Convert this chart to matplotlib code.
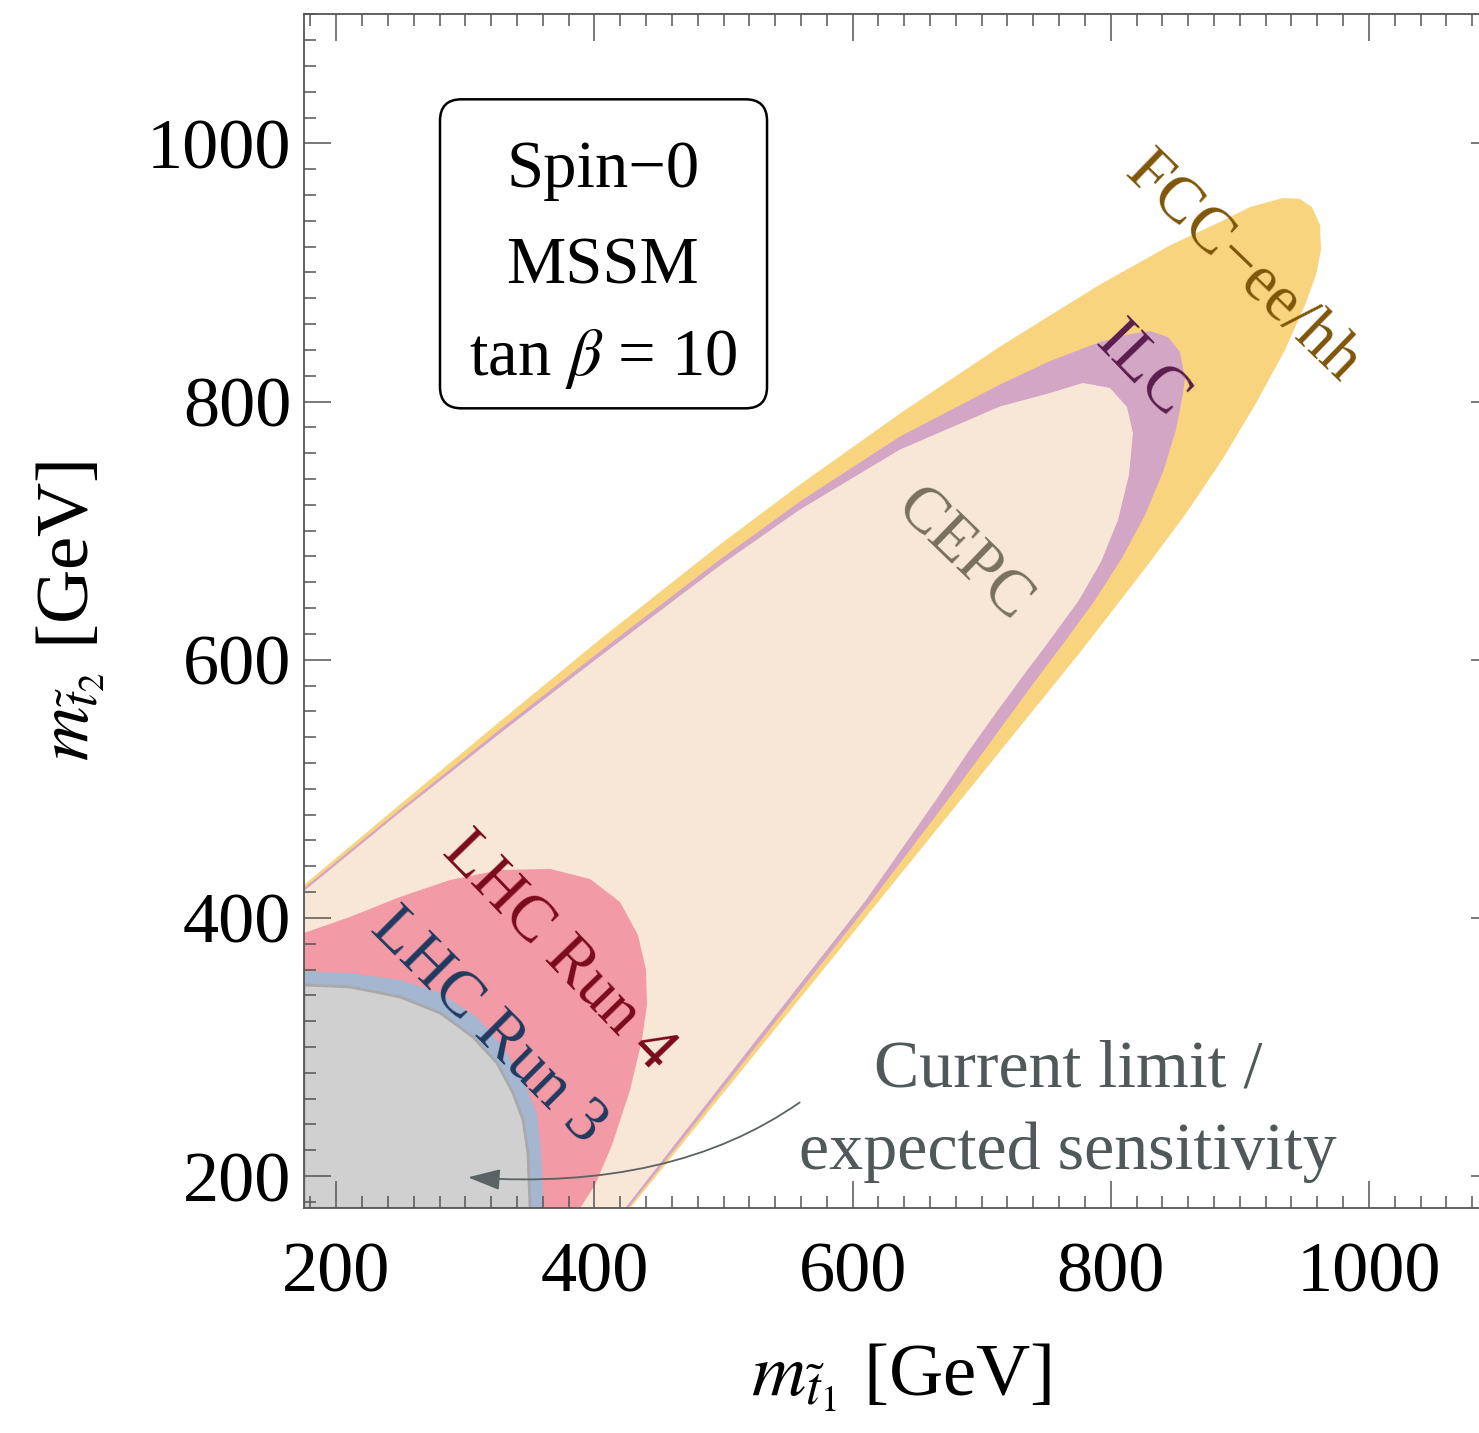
import matplotlib
matplotlib.use("Agg")
import matplotlib.pyplot as plt
from matplotlib.patches import FancyBboxPatch
from matplotlib.ticker import MultipleLocator

plt.rcParams["font.family"] = ["Liberation Serif", "DejaVu Serif"]
plt.rcParams["mathtext.fontset"] = "stix"

# region boundaries (m_t1, m_t2) in GeV
fcc_x = [175, 249.4, 326.8, 404.3, 498, 559.3, 636.7, 714.2, 791.7, 845.9, 884.6, 907.9,
         933.4, 946.6, 955.9, 962.1, 962.9, 959, 950.5, 935, 911.7, 886.2, 859.1, 830.4,
         801.7, 774.6, 427.6, 175]
fcc_y = [425.5, 487.9, 552.2, 615.7, 689.8, 735.7, 790.7, 842.6, 890.7, 921, 939.1, 950.7,
         957.7, 957, 950.7, 936.8, 917.4, 898, 874.8, 839.9, 797.3, 754.7, 714.4, 675.7,
         638.5, 603.6, 175, 175]

ilc_x = [175, 249.4, 326.8, 404.3, 498, 559.3, 636.7, 714.2, 753, 791.7, 814.9, 830.4,
         844.3, 853.6, 857.5, 856, 850.5, 840.5, 826.5, 808.7, 787.8, 765.3, 742.1, 716.5,
         691, 670.8, 615, 535.2, 426, 175]
ilc_y = [423.1, 484, 546, 606.4, 678.2, 722.6, 772.9, 813.2, 831.4, 846.1, 852.3, 854.6,
         850, 838.4, 818.2, 806.6, 778, 745.4, 712.1, 678.8, 646.2, 615.3, 584.3, 549.4,
         514.6, 487.4, 413.8, 313.1, 175, 175]

cepc_x = [175, 249.4, 326.8, 404.3, 498, 559.3, 636.7, 714.2, 753, 778.5, 799.4, 812.6,
          817.2, 814.1, 805.6, 792.4, 775.4, 755.2, 734.3, 712.6, 689.4, 664.6, 610.4,
          531.4, 423.7, 175]
cepc_y = [420.8, 481.7, 542.9, 602.6, 673.5, 716.4, 762.8, 796.2, 806.6, 814.4, 810.5, 795.8,
          775.6, 743.1, 708.2, 675.7, 646.2, 618.4, 590.5, 561, 528.5, 491.3, 413.8,
          313.1, 175, 175]

run4_x = [175, 210.6, 249.4, 288.1, 326.8, 365.6, 396.6, 419.8, 433.7, 440, 440.7,
          436.8, 427.6, 413.6, 400.4, 388.8, 175]
run4_y = [388.3, 400.7, 416.2, 429.3, 437.1, 437.9, 430.1, 412.3, 386.7, 359.6, 332.5,
          305.4, 266.6, 224, 193, 175, 175]

run3_x = [175, 210.6, 249.4, 280.4, 309, 329.2, 344.7, 355.5, 357.8, 359.4, 360.2, 175]
run3_y = [358.1, 357.3, 351.9, 341.8, 323.2, 300, 274.4, 248.8, 227.9, 204.7, 175, 175]

now_x = [175, 210.6, 249.4, 280.4, 305.9, 324.5, 336.9, 344.7, 348.5, 350.1, 175]
now_y = [348, 346.5, 338.7, 326.3, 307.7, 287.6, 264.3, 243.4, 217.8, 175, 175]

# label text, position, rotation, colour
labels = [
    ("FCC\u2212ee/hh", 902, 904, -44, "#7f5608"),
    ("ILC", 824, 824, -46, "#5a1d4c"),
    ("CEPC", 686, 681, -44, "#7a705e"),
    ("LHC Run 4", 372, 374, -46, "#7a0a1c"),
    ("LHC Run 3", 318, 316, -45, "#1f3a60"),
]

fig = plt.figure(figsize=(14.79, 14.33), dpi=100)
ax = fig.add_axes([304 / 1479, (1433 - 1208.3) / 1433, 1194 / 1479, 1194 / 1433])

ax.fill(fcc_x, fcc_y, color="#f8d47f", lw=0)
ax.fill(ilc_x, ilc_y, color="#d3a6c6", lw=0)
ax.fill(cepc_x, cepc_y, color="#f8e7d7", lw=0)
ax.fill(run4_x, run4_y, color="#f29aa5", lw=0)
ax.fill(run3_x, run3_y, color="#a4b6d0", lw=0)
ax.fill(now_x, now_y, facecolor="#d0d0d0", edgecolor="#a9a9a9", lw=2)

for text, x, y, rot, col in labels:
    ax.text(x, y, text, rotation=rot, color=col, fontsize=47,
            ha="center", va="center", rotation_mode="anchor")

# current limit annotation
ax.text(767, 250, "Current limit /\nexpected sensitivity", fontsize=49, color="#505859",
        ha="center", va="center", linespacing=1.45)
ax.annotate("", xy=(302, 199), xytext=(559, 257),
            arrowprops=dict(arrowstyle="-|>,head_length=0.4,head_width=0.13",
                            color="#5b6263", lw=1.3, mutation_scale=50,
                            shrinkA=0, shrinkB=0,
                            connectionstyle="angle3,angleA=35,angleB=-4"))

# info box
box = FancyBboxPatch((0.1139, 0.670), 0.2739, 0.2588, transform=ax.transAxes,
                     boxstyle="round,pad=0,rounding_size=0.018",
                     facecolor="white", edgecolor="black", lw=1.8, zorder=3)
ax.add_patch(box)
ax.text(0.2504, 0.8551, "Spin\u22120", transform=ax.transAxes, fontsize=48,
        ha="center", va="baseline", zorder=4)
ax.text(0.2504, 0.7747, "MSSM", transform=ax.transAxes, fontsize=48,
        ha="center", va="baseline", zorder=4)
ax.text(0.2504, 0.6977, r"tan $\beta$ = 10", transform=ax.transAxes, fontsize=48,
        ha="center", va="baseline", zorder=4)

ax.set_xlim(175, 1100)
ax.set_ylim(175, 1100)
ax.xaxis.set_major_locator(MultipleLocator(200))
ax.yaxis.set_major_locator(MultipleLocator(200))
ax.xaxis.set_minor_locator(MultipleLocator(20))
ax.yaxis.set_minor_locator(MultipleLocator(20))
ax.tick_params(which="both", direction="in", top=True, right=True, color="#555555",
               width=1.1)
ax.tick_params(which="major", length=19.5)
ax.tick_params(which="minor", length=8.5)
ax.tick_params(axis="x", which="major", labelsize=52, pad=24)
ax.tick_params(axis="y", which="major", labelsize=52, pad=9)
for spine in ax.spines.values():
    spine.set_color("#555555")
    spine.set_linewidth(1.3)

ax.set_xlabel(r"$m_{\tilde{t}_1}$ [GeV]", fontsize=54, labelpad=25)
ax.set_ylabel(r"$m_{\tilde{t}_2}$ [GeV]", fontsize=54, labelpad=29)

fig.savefig("out.png", dpi=100)
